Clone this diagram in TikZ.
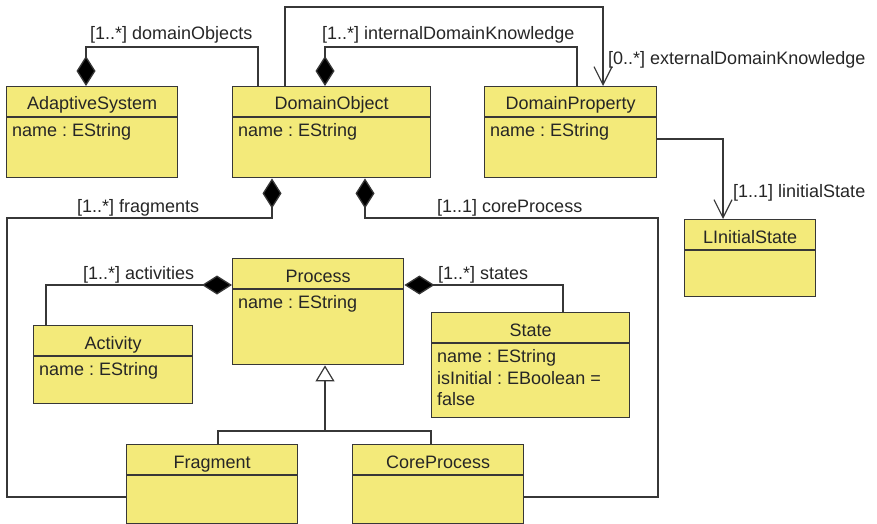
\documentclass[tikz,border=0pt]{standalone}
\usepackage{fontspec}
\setmainfont{Liberation Sans}
\usetikzlibrary{arrows.meta}
\frenchspacing
\definecolor{clsfill}{RGB}{243,234,122}
\definecolor{ink}{RGB}{55,55,55}
\tikzset{
  cls/.style={draw=ink, fill=clsfill, line width=1.4pt, inner sep=0pt, anchor=north west},
  divider/.style={draw=ink, line width=1.3pt},
  ctitle/.style={anchor=base, inner sep=0pt, text=black!85},
  cattr/.style={anchor=base west, inner sep=0pt, text=black!85},
  lbl/.style={anchor=base west, inner sep=0pt, text=black!85},
  conn/.style={draw=ink, line width=1.3pt},
  comp/.style={conn, {Diamond[length=30pt,width=19pt,fill=black]}-},
  nav/.style={conn, -{Straight Barb[length=18pt,width=18pt,line width=1.2pt]}},
  gen/.style={conn, -{Triangle[open,length=16pt,width=19pt,fill=white,line width=1.2pt]}},
}
% \umlclass{name}{x}{y}{width}{height}{title}
\newcommand\umlclass[6]{%
  \node[cls, minimum width=#4pt, minimum height=#5pt] (#1) at (#2,#3) {};
  \draw[divider] ([yshift=-31pt]#1.north west) -- ([yshift=-31pt]#1.north east);
  \node[ctitle] (#1-title) at ([yshift=-24pt]#1.north) {#6};
}
% attribute compartment; the base line is that of the first row
\newcommand\umlattr[2]{%
  \node[cattr] (#1-attr) at ([xshift=6pt,yshift=-50.5pt]#1.north west)
    {\begin{tabular}[t]{@{}l@{}}#2\end{tabular}};
}
\begin{document}
\begin{tikzpicture}[x=1pt,y=-1pt,font=\fontsize{18}{21.5}\selectfont]
\useasboundingbox (0,0) rectangle (877,524);

% classes
\umlclass{AS}{6}{86}{171}{91}{AdaptiveSystem}
\umlattr{AS}{name : EString}
\umlclass{DO}{232}{86}{198}{91}{DomainObject}
\umlattr{DO}{name : EString}
\umlclass{DP}{484}{86}{172}{91}{DomainProperty}
\umlattr{DP}{name : EString}
\umlclass{LI}{684}{219}{131}{77}{LInitialState}
\umlclass{PR}{232}{258}{171}{106}{Process}
\umlattr{PR}{name : EString}
\umlclass{AC}{33}{325}{159}{78}{Activity}
\umlattr{AC}{name : EString}
\umlclass{ST}{431}{312}{198}{105}{State}
\umlattr{ST}{name : EString\\isInitial : EBoolean =\\false}
\umlclass{FR}{126}{444}{171}{79}{Fragment}
\umlclass{CP}{352}{444}{171}{79}{CoreProcess}

% corner points of the long routes
\coordinate (lcorner) at (7,218);
\coordinate (rcorner) at (658,218);
\coordinate (gjoin) at (325,431);

% associations
\draw[comp] ([xshift=80pt]AS.north west) -- ++(0,-39) -| ([xshift=26pt]DO.north west);
\draw[comp] ([xshift=93pt]DO.north west) -- ++(0,-39) -| ([xshift=93pt]DP.north west);
\draw[nav] ([xshift=53pt]DO.north west) -- ++(0,-79) -| ([xshift=119pt]DP.north west);
\draw[nav] ([yshift=-53pt]DP.north east) -| ([xshift=39pt]LI.north west);
\draw[comp] ([xshift=40pt]DO.south west) |- (lcorner) |- ([yshift=-53pt]FR.north west);
\draw[comp] ([xshift=133pt]DO.south west) |- (rcorner) |- ([yshift=-53pt]CP.north east);
\draw[comp] ([yshift=-27pt]PR.north west) -| ([xshift=13pt]AC.north west);
\draw[comp] ([yshift=-27pt]PR.north east) -| ([xshift=132pt]ST.north west);

% generalisation
\draw[conn] ([xshift=92pt]FR.north west) |- (gjoin) -| ([xshift=79pt]CP.north west);
\draw[gen] (gjoin) -- ([xshift=93pt]PR.south west);

% role labels
\node[lbl] (l-do) at (90,40) {[1..*] domainObjects};
\node[lbl] (l-idk) at (322,40) {[1..*] internalDomainKnowledge};
\node[lbl] (l-edk) at (608,65) {[0..*] externalDomainKnowledge};
\node[lbl] (l-ls) at (733,197) {[1..1] linitialState};
\node[lbl] (l-fr) at (77,212) {[1..*] fragments};
\node[lbl] (l-cp) at (437,212) {[1..1] coreProcess};
\node[lbl] (l-ac) at (83,279) {[1..*] activities};
\node[lbl] (l-st) at (438,279) {[1..*] states};
\end{tikzpicture}
\end{document}
